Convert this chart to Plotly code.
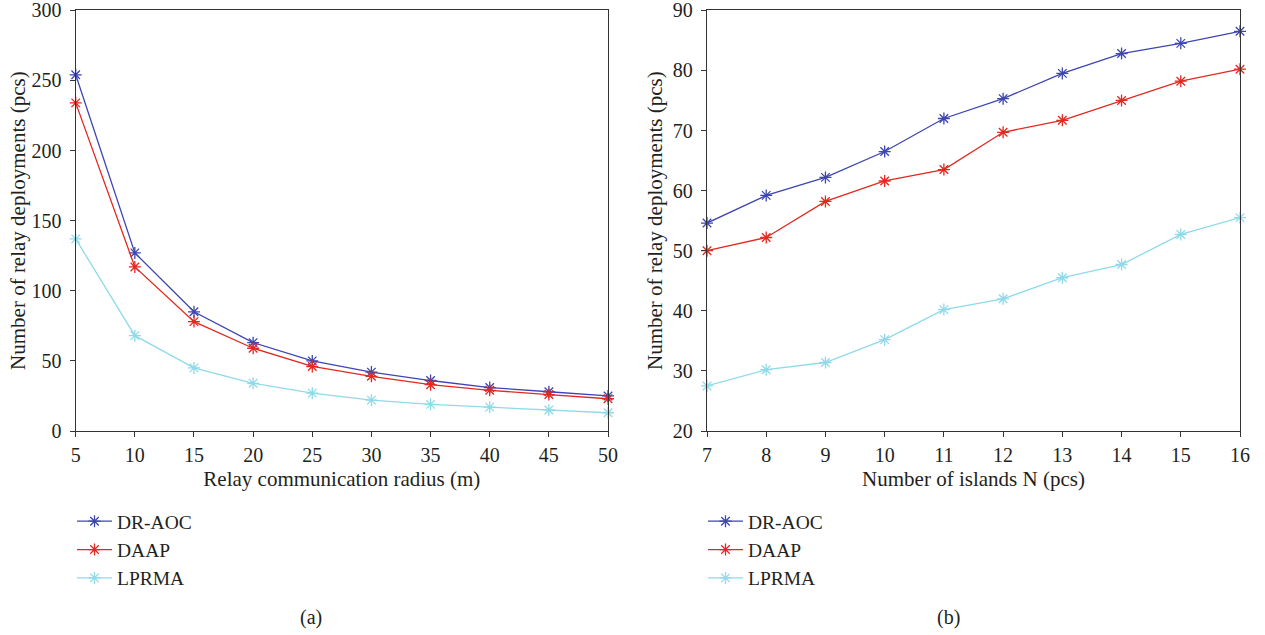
import plotly.graph_objects as go

# (a) relay communication radius sweep
radius_m = [5, 10, 15, 20, 25, 30, 35, 40, 45, 50]
a_dr_aoc = [254, 127, 85, 63, 50, 42, 36, 31, 28, 25]
a_daap = [234, 117, 78, 59, 46, 39, 33, 29, 26, 23]
a_lprma = [137, 68, 45, 34, 27, 22, 19, 17, 15, 13]

# (b) number of islands sweep
islands_n = [7, 8, 9, 10, 11, 12, 13, 14, 15, 16]
b_dr_aoc = [54.6, 59.2, 62.2, 66.5, 72.0, 75.3, 79.5, 82.8, 84.5, 86.5]
b_daap = [50.0, 52.2, 58.2, 61.6, 63.5, 69.7, 71.7, 75.0, 78.2, 80.2]
b_lprma = [27.5, 30.2, 31.4, 35.2, 40.2, 42.0, 45.5, 47.7, 52.7, 55.5]

series_names = ["DR-AOC", "DAAP", "LPRMA"]
series_colors = ["#3D46B2", "#E3281F", "#8FDAE9"]

W, H = 1265, 635
FONT = "Liberation Serif, Times New Roman, serif"
TXT = "#231F20"
AX = "#333333"


def px_x(p):
    return p / W


def px_y(p):
    return 1 - p / H


fig = go.Figure()

panels = [
    ("x", "y", "legend", radius_m, [a_dr_aoc, a_daap, a_lprma]),
    ("x2", "y2", "legend2", islands_n, [b_dr_aoc, b_daap, b_lprma]),
]
for xa, ya, leg, xs, ys_list in panels:
    for name, color, ys in zip(series_names, series_colors, ys_list):
        fig.add_trace(go.Scatter(
            x=xs, y=ys, name=name, mode="lines+markers",
            xaxis=xa, yaxis=ya, legend=leg, legendgroup=leg + name,
            cliponaxis=False,
            line=dict(color=color, width=1.3),
            marker=dict(symbol="asterisk-open", size=10,
                        line=dict(color=color, width=1.3)),
        ))

axis_common = dict(
    showline=True, mirror=True, linecolor=AX, linewidth=1.3,
    ticks="outside", ticklen=5, tickwidth=1.2, tickcolor=AX,
    showgrid=False, zeroline=False, ticklabeloverflow="allow",
    automargin=False,
    tickfont=dict(family=FONT, size=20, color=TXT),
)
title_font = dict(family=FONT, size=21, color=TXT)
legend_font = dict(family=FONT, size=19.5, color=TXT)

y_dom = [px_y(431), px_y(10.3)]

fig.update_layout(
    width=W, height=H,
    margin=dict(l=0, r=0, t=0, b=0, autoexpand=False),
    paper_bgcolor="white", plot_bgcolor="white",
    font=dict(family=FONT, color=TXT),
    xaxis=dict(domain=[px_x(75.7), px_x(608)], range=[5, 50], dtick=5, tick0=5,
               anchor="y", ticklabelstandoff=1,
               title=dict(text="Relay communication radius (m)", font=title_font, standoff=6),
               **axis_common),
    yaxis=dict(domain=y_dom, range=[0, 300], dtick=50, anchor="x",
               ticklabelstandoff=4,
               title=dict(text="Number of relay deployments (pcs)", font=title_font, standoff=0),
               **axis_common),
    xaxis2=dict(domain=[px_x(707), px_x(1240)], range=[7, 16], dtick=1, tick0=7,
                anchor="y2", ticklabelstandoff=1,
                title=dict(text="Number of islands N (pcs)", font=title_font, standoff=6),
                **axis_common),
    yaxis2=dict(domain=y_dom, range=[20, 90], dtick=10, anchor="x2",
                ticklabelstandoff=4,
                title=dict(text="Number of relay deployments (pcs)", font=title_font, standoff=4),
                **axis_common),
    legend=dict(x=px_x(72), y=px_y(502), xanchor="left", yanchor="top",
                font=legend_font,
                bgcolor="rgba(0,0,0,0)", tracegroupgap=0, itemwidth=35),
    legend2=dict(x=px_x(703), y=px_y(502), xanchor="left", yanchor="top",
                 font=legend_font,
                 bgcolor="rgba(0,0,0,0)", tracegroupgap=0, itemwidth=35),
    annotations=[
        dict(text="(a)", x=px_x(311), y=px_y(617), xref="paper", yref="paper",
             showarrow=False, xanchor="center", yanchor="middle",
             font=dict(family=FONT, size=20, color=TXT)),
        dict(text="(b)", x=px_x(948), y=px_y(617), xref="paper", yref="paper",
             showarrow=False, xanchor="center", yanchor="middle",
             font=dict(family=FONT, size=20, color=TXT)),
    ],
)

fig.write_html("out.html")
